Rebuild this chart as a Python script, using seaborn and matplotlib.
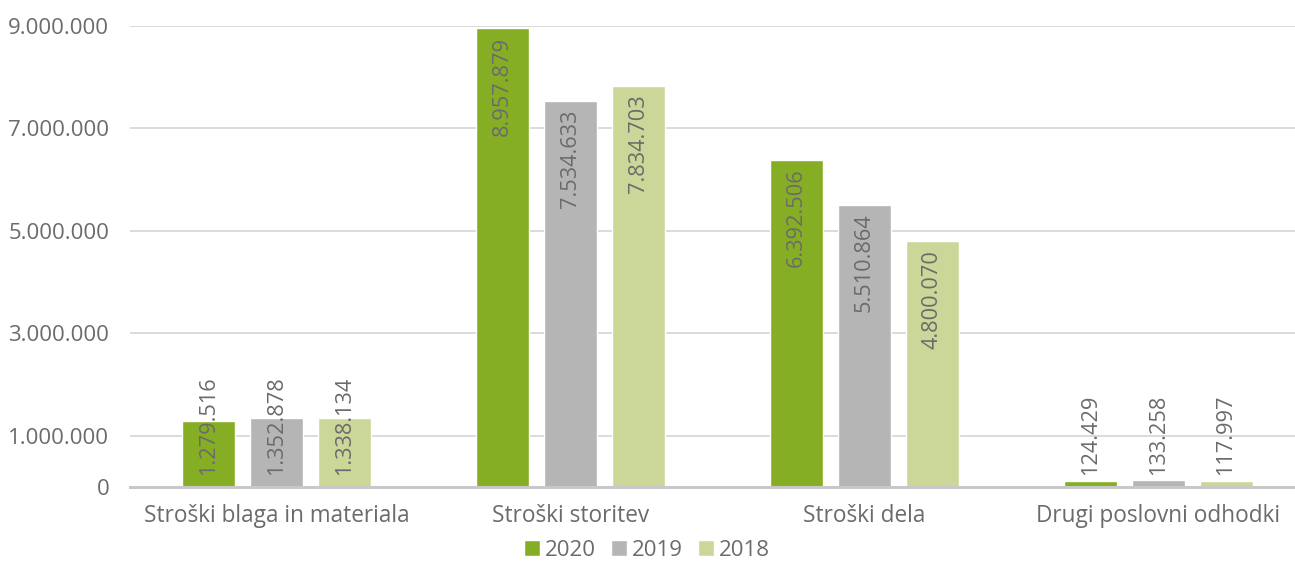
import matplotlib
matplotlib.use("Agg")
import matplotlib.pyplot as plt
import seaborn as sns
import pandas as pd

categories = ["Stroški blaga in materiala", "Stroški storitev", "Stroški dela", "Drugi poslovni odhodki"]
years = ["2020", "2019", "2018"]
values_2020 = [1279516, 8957879, 6392506, 124429]
values_2019 = [1352878, 7534633, 5510864, 133258]
values_2018 = [1338134, 7834703, 4800070, 117997]
y_ticks = [0, 1000000, 3000000, 5000000, 7000000, 9000000]

colors = ["#86ae24", "#b5b5b5", "#cbd699"]
text_color = "#6b6b6b"

sns.set_theme(style="white")
plt.rcParams["font.family"] = ["Open Sans", "DejaVu Sans"]


def fmt(v):
    return f"{int(v):,}".replace(",", ".")


rows = []
for year, vals in zip(years, [values_2020, values_2019, values_2018]):
    for cat, v in zip(categories, vals):
        rows.append({"kategorija": cat, "leto": year, "vrednost": v})
df = pd.DataFrame(rows)

fig = plt.figure(figsize=(12.95, 5.61), dpi=100)
W, H = 1295, 561
ax = fig.add_axes([130 / W, 74 / H, 1175 / W, 461 / H])

sns.barplot(data=df, x="kategorija", y="vrednost", hue="leto", hue_order=years,
            order=categories, palette=colors, width=0.694, gap=0.22,
            saturation=1, ax=ax, legend=True, errorbar=None)

ax.set_ylim(0, 9000000)
ax.set_yticks(y_ticks)
ax.set_yticklabels([fmt(t) for t in y_ticks])
ax.set_xlabel("")
ax.set_ylabel("")
ax.set_axisbelow(True)
ax.yaxis.grid(True, color="#d4d4d4", linewidth=1.2)
for s in ["top", "right", "left"]:
    ax.spines[s].set_visible(False)
ax.spines["bottom"].set_color("#c8c8c8")
ax.spines["bottom"].set_linewidth(2.2)
ax.tick_params(axis="y", length=0, pad=15, labelsize=16, labelcolor=text_color)
ax.tick_params(axis="x", length=0, pad=12, labelsize=16.3, labelcolor=text_color)

# value labels: rotated, anchored at the inner top of each bar,
# pushed up from the baseline when the bar is too short to hold them
fig.canvas.draw()
renderer = fig.canvas.get_renderer()
to_px = ax.transData
pad_px = 9
for container in ax.containers:
    for bar, v in zip(container.patches, container.datavalues):
        x = bar.get_x() + bar.get_width() / 2
        t = ax.text(x, v, fmt(v), rotation=90, ha="center", va="top",
                    fontsize=15.7, color=text_color)
        ext = t.get_window_extent(renderer)
        h = ext.height
        top_px = to_px.transform((x, v))[1] - pad_px
        base_px = to_px.transform((x, 0))[1]
        if top_px - h < base_px + 12:
            top_px = base_px + 12 + h
        new_y = to_px.inverted().transform((0, top_px))[1]
        t.set_y(new_y)
        t.set_clip_on(False)

leg = ax.legend(loc="center", bbox_to_anchor=(647 / W, 11 / H),
                bbox_transform=fig.transFigure, ncol=3, frameon=False,
                fontsize=16, handlelength=0.72, handleheight=0.72,
                handletextpad=0.2, columnspacing=0.7, title=None)
for txt in leg.get_texts():
    txt.set_color(text_color)

fig.savefig("out.png", dpi=100)
